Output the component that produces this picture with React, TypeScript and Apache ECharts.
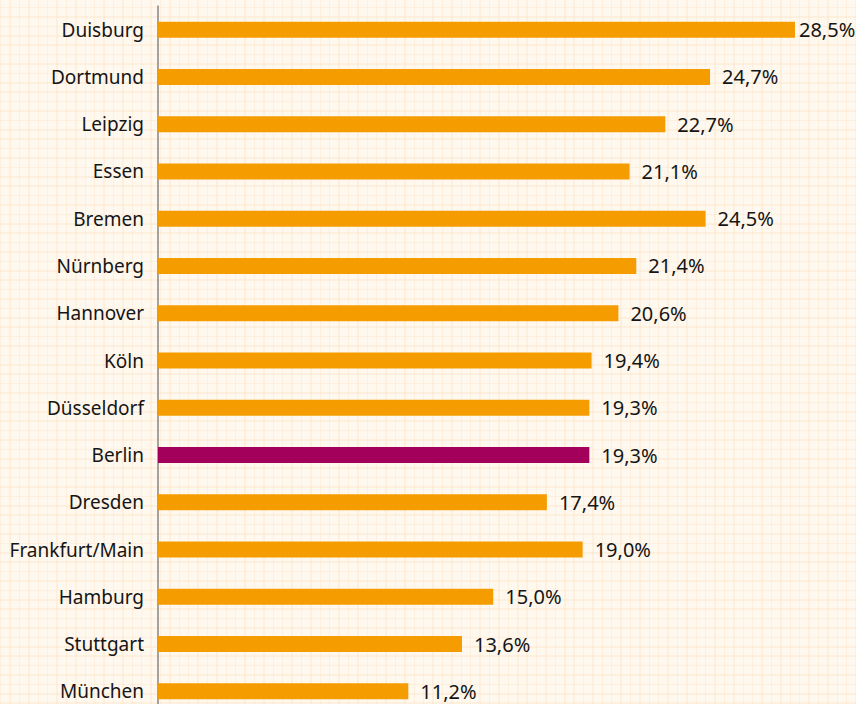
import React, { useEffect, useRef } from "react";
import * as echarts from "echarts";

const categories = [
  "Duisburg", "Dortmund", "Leipzig", "Essen", "Bremen", "Nürnberg", "Hannover",
  "Köln", "Düsseldorf", "Berlin", "Dresden", "Frankfurt/Main", "Hamburg", "Stuttgart", "München",
];
const values = [28.5, 24.7, 22.7, 21.1, 24.5, 21.4, 20.6, 19.4, 19.3, 19.3, 17.4, 19.0, 15.0, 13.6, 11.2];
const highlight = "Berlin";

export default function App() {
  const ref = useRef<HTMLDivElement>(null);
  useEffect(() => {
    document.body.style.margin = "0";
    const chart = echarts.init(ref.current!, null, { renderer: "svg" });
    const xMax = 30;
    chart.setOption({
      animation: false,
      grid: {
        left: 158, width: 670.5, top: 6, height: 709,
        containLabel: false, outerBoundsMode: "none",
      },
      xAxis: { type: "value", min: 0, max: xMax, show: false },
      yAxis: {
        type: "category",
        data: categories,
        inverse: true,
        axisLine: { show: true, lineStyle: { color: "#8a8580", width: 1.5 } },
        axisTick: { show: false },
        axisLabel: {
          margin: 14,
          fontSize: 19,
          lineHeight: 18,
          fontFamily: "Noto Sans",
          color: "#151515",
        },
      },
      series: [
        {
          type: "bar",
          barWidth: 16,
          data: values.map((v, i) => ({
            value: v,
            itemStyle: { color: categories[i] === highlight ? "#a3005b" : "#f59c00" },
            // labels near the right edge are pulled closer so they stay inside the page
            label: { distance: v > xMax * 0.93 ? 4 : 12 },
          })),
          label: {
            show: true,
            position: "right",
            distance: 12,
            fontSize: 20,
            lineHeight: 18,
            fontFamily: "Noto Sans",
            color: "#151515",
            formatter: (p: any) => p.value.toFixed(1).replace(".", ",") + "%",
          },
        },
      ],
    });
    return () => chart.dispose();
  }, []);
  const line = "rgba(252,226,196,0.4)";
  const bg =
    `repeating-linear-gradient(0deg, ${line} 0px, ${line} 1.5px, transparent 1.5px, transparent 9.4px),` +
    `repeating-linear-gradient(90deg, ${line} 0px, ${line} 1.5px, transparent 1.5px, transparent 9.4px),` +
    "#fff8ef";
  return (
    <div
      ref={ref}
      style={{ position: "fixed", left: 0, top: 0, width: 856, height: 704, background: bg }}
    />
  );
}
